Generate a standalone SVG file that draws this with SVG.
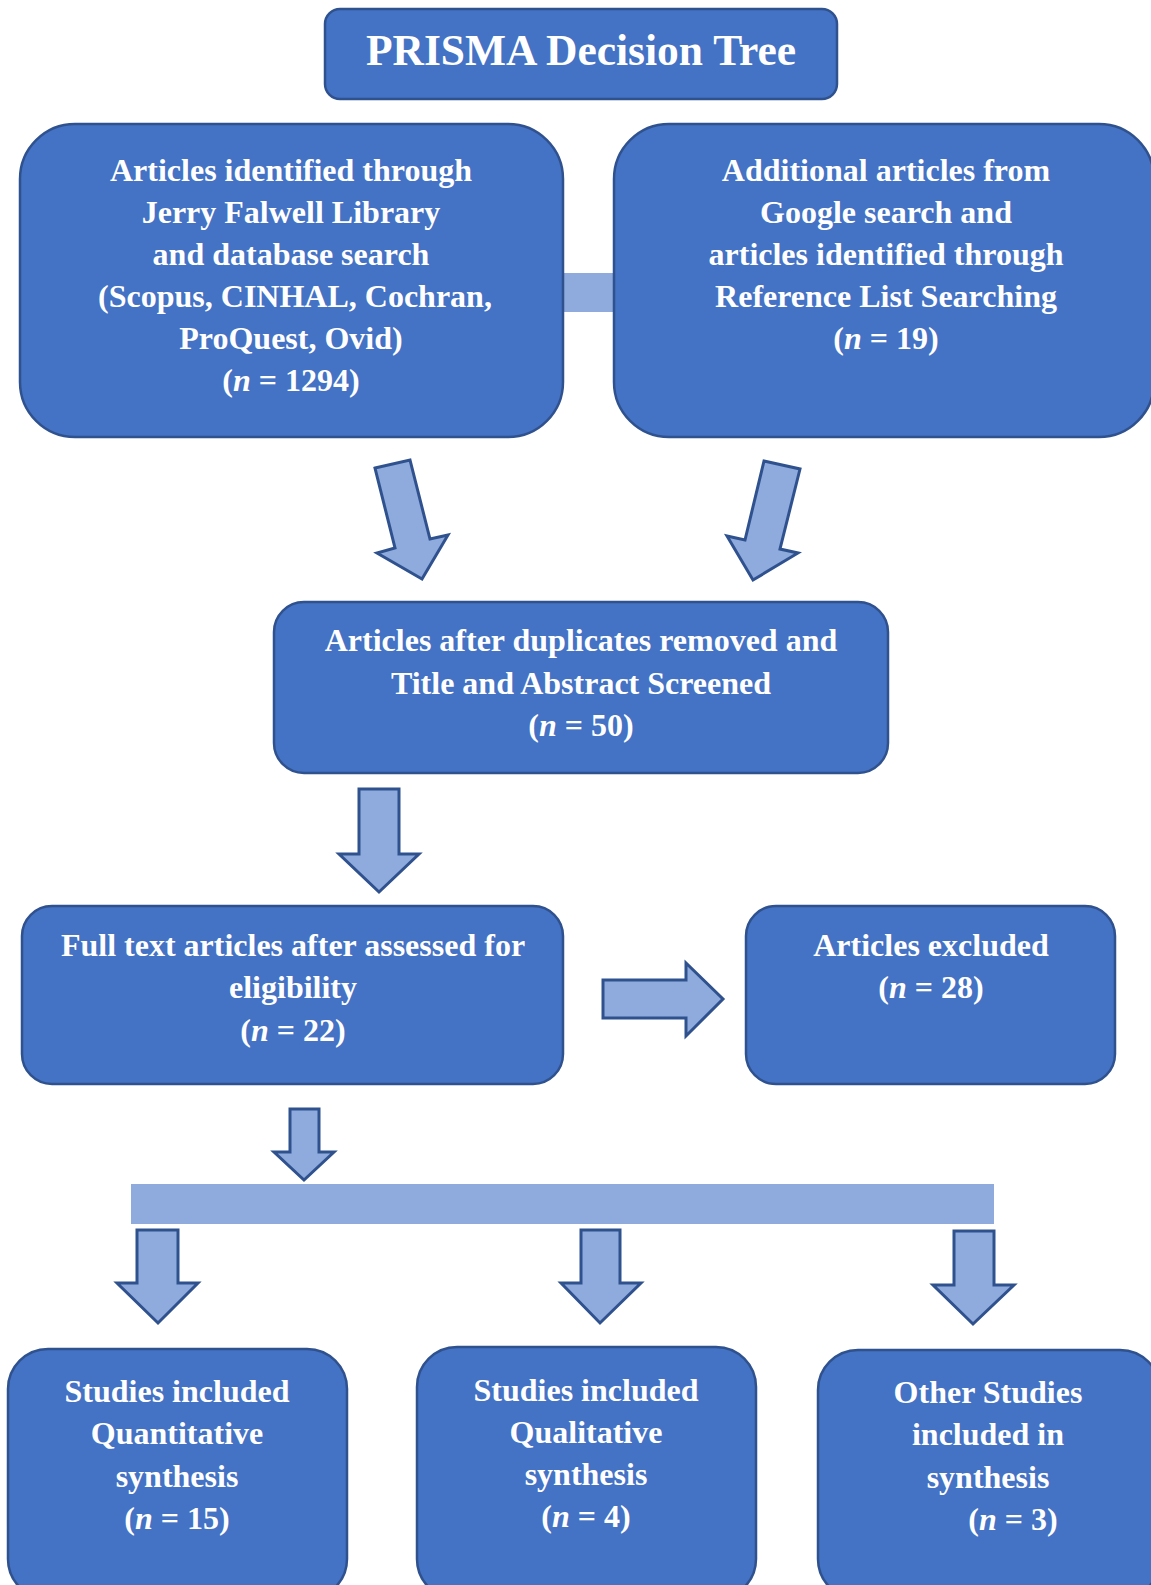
<svg xmlns="http://www.w3.org/2000/svg" width="1151" height="1585" viewBox="0 0 1151 1585">
<style>
.box{fill:#4472C4;stroke:#2F528F;stroke-width:2.5}
.arr{fill:#8FAADC;stroke:#2F528F;stroke-width:3;stroke-linejoin:miter}
.bar{fill:#8FAADC}
text{font-family:"Liberation Serif","Times New Roman",serif;font-weight:bold;fill:#FFFFFF;text-anchor:middle;font-size:32px}
.title{font-size:43.5px}
</style>
<rect width="1151" height="1585" fill="#FFFFFF"/>
<g id="connectors">
<rect class="bar" x="563" y="273" width="51" height="39"/>
<polygon class="arr" points="375,468 410,460 430,539 448,535 422,579 377,553 395,548"/>
<polygon class="arr" points="764,461 800,469 780,549 798,553 753,580 727,536 745,540"/>
<polygon class="arr" points="359,789 399,789 399,854 419,854 379,892 339,854 359,854"/>
<polygon class="arr" points="603,980 686,980 686,963 723,999 686,1036 686,1018 603,1018"/>
<polygon class="arr" points="290,1109 319,1109 319,1152 334,1152 304,1180 274,1152 290,1152"/>
<rect class="bar" x="131" y="1184" width="863" height="40"/>
<polygon class="arr" points="137,1230 178,1230 178,1283 198,1283 158,1323 117,1283 137,1283"/>
<polygon class="arr" points="581,1230 620,1230 620,1283 641,1283 600,1323 561,1283 581,1283"/>
<polygon class="arr" points="954,1231 994,1231 994,1285 1014,1285 973,1324 933,1285 954,1285"/>
</g>
<g id="title">
<rect class="box" x="325" y="9" width="512" height="90" rx="15"/>
<text class="title" x="581" y="65">PRISMA Decision Tree</text>
</g>
<g id="identified">
<rect class="box" x="20" y="124" width="543" height="313" rx="55"/>
<text x="291" y="181">Articles identified through</text>
<text x="291" y="223">Jerry Falwell Library</text>
<text x="291" y="265">and database search</text>
<text x="295" y="307">(Scopus, CINHAL, Cochran,</text>
<text x="291" y="349">ProQuest, Ovid)</text>
<text x="291" y="391">(<tspan font-style="italic">n</tspan> = 1294)</text>
</g>
<g id="additional">
<rect class="box" x="614" y="124" width="540" height="313" rx="55"/>
<text x="886" y="181">Additional articles from</text>
<text x="886" y="223">Google search and</text>
<text x="886" y="265">articles identified through</text>
<text x="886" y="307">Reference List Searching</text>
<text x="886" y="349">(<tspan font-style="italic">n</tspan> = 19)</text>
</g>
<g id="screened">
<rect class="box" x="274" y="602" width="614" height="171" rx="30"/>
<text x="581" y="651">Articles after duplicates removed and</text>
<text x="581" y="694">Title and Abstract Screened</text>
<text x="581" y="736">(<tspan font-style="italic">n</tspan> = 50)</text>
</g>
<g id="fulltext">
<rect class="box" x="22" y="906" width="541" height="178" rx="30"/>
<text x="293" y="956">Full text articles after assessed for</text>
<text x="293" y="998">eligibility</text>
<text x="293" y="1041">(<tspan font-style="italic">n</tspan> = 22)</text>
</g>
<g id="excluded">
<rect class="box" x="746" y="906" width="369" height="178" rx="30"/>
<text x="931" y="956">Articles excluded</text>
<text x="931" y="998">(<tspan font-style="italic">n</tspan> = 28)</text>
</g>
<g id="quantitative">
<rect class="box" x="8" y="1349" width="339" height="250" rx="40"/>
<text x="177" y="1402">Studies included</text>
<text x="177" y="1444">Quantitative</text>
<text x="177" y="1487">synthesis</text>
<text x="177" y="1529">(<tspan font-style="italic">n</tspan> = 15)</text>
</g>
<g id="qualitative">
<rect class="box" x="417" y="1347" width="339" height="252" rx="40"/>
<text x="586" y="1401">Studies included</text>
<text x="586" y="1443">Qualitative</text>
<text x="586" y="1485">synthesis</text>
<text x="586" y="1527">(<tspan font-style="italic">n</tspan> = 4)</text>
</g>
<g id="other">
<rect class="box" x="818" y="1350" width="342" height="249" rx="40"/>
<text x="988" y="1403">Other Studies</text>
<text x="988" y="1445">included in</text>
<text x="988" y="1488">synthesis</text>
<text x="1013" y="1530">(<tspan font-style="italic">n</tspan> = 3)</text>
</g>
</svg>
